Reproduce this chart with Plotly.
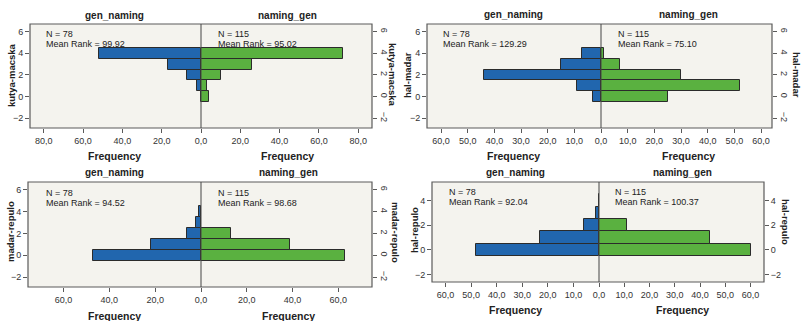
import plotly.graph_objects as go

W, H = 804, 321

# ---------------- data ----------------
bins = [0, 1, 2, 3, 4]
group_left = "gen_naming"
group_right = "naming_gen"

var_names = ["kutya-macska", "hal-madar", "madar-repulo", "hal-repulo"]

left_counts = [
    [0, 2, 7, 17, 52],
    [3, 9, 44, 15, 7],
    [47, 22, 6, 2, 1],
    [48, 23, 6, 1, 0],
]
right_counts = [
    [4, 3, 10, 26, 72],
    [25, 52, 30, 7, 1],
    [63, 39, 13, 0, 0],
    [60, 44, 11, 0, 0],
]
n_left = [78, 78, 78, 78]
n_right = [115, 115, 115, 115]
mean_rank_left = ["99.92", "129.29", "94.52", "92.04"]
mean_rank_right = ["95.02", "75.10", "98.68", "100.37"]

x_ticks = [
    [0, 20, 40, 60, 80],
    [0, 10, 20, 30, 40, 50, 60],
    [0, 20, 40, 60],
    [0, 10, 20, 30, 40, 50, 60],
]
y_ticks = [
    [-2, 0, 2, 4, 6],
    [-2, 0, 2, 4, 6],
    [-2, 0, 2, 4, 6],
    [-2, 0, 2, 4],
]

# ---------------- layout geometry (pixels) ----------------
frames = [
    (30, 201, 372, 24, 128),
    (427, 601, 772, 24, 128),
    (28, 201, 372, 182, 287),
    (432, 599, 764, 182, 282),
]
x_ranges = [(87, 87), (65.3, 64.1), (75.5, 74.7), (65.3, 65.3)]
y_ranges = [(-2.9, 6.7), (-2.9, 6.7), (-2.9, 6.7), (-2.6, 5.5)]
right_tick_angle = [90, 90, 90, 0]

title_pos = [(115, 287, 15), (513, 688, 14), (115, 288, 173), (515, 682, 173)]
freq_pos = [(115, 287, 156), (513, 688, 156), (115, 288, 316), (515, 682, 310)]
stat_pos = [(44, 216, 34, 44), (441, 616, 34, 44), (44, 216, 193, 203), (447, 613, 192, 202)]
ytitle_pos = [(11, 393, 75, 75), (407, 797, 75, 75), (10, 396, 232, 232), (414, 786, 230, 222)]

BLUE = "#2166AE"
GREEN = "#5AB140"
EDGE = "#2b2b2b"
BG = "#F4F3EE"
FRAME = "#5a5a5a"
FONT = "Liberation Sans, Arial, sans-serif"
TXT = "#222222"


def px(x):
    return x / W


def py(y):
    return 1 - y / H


def fmt(v):
    return f"{v:.1f}".replace(".", ",")


fig = go.Figure()
layout = dict(
    width=W, height=H,
    margin=dict(l=0, r=0, t=0, b=0, autoexpand=False),
    paper_bgcolor="white",
    plot_bgcolor=BG,
    showlegend=False,
    bargap=0,
    barmode="overlay",
    font=dict(family=FONT, size=9, color=TXT),
)
annotations = []
shapes = []

for k in range(4):
    x0, xc, x1, yt, yb = frames[k]
    xl_ref = f"x{2 * k + 1}"
    xr_ref = f"x{2 * k + 2}"
    yl_ref = f"y{2 * k + 1}"
    yr_ref = f"y{2 * k + 2}"
    ydom = [py(yb), py(yt)]

    common_x = dict(
        showgrid=False, zeroline=False, showline=False,
        ticks="outside", ticklen=4, tickcolor=FRAME, tickwidth=1,
        tickfont=dict(size=9, color="#333333"),
        fixedrange=True, automargin=False,
    )
    lv = [v for v in x_ticks[k] if v != 0]
    layout[f"xaxis{2 * k + 1}"] = dict(
        common_x, domain=[px(x0), px(xc)], anchor=yl_ref,
        range=[x_ranges[k][0], 0],
        tickvals=lv, ticktext=[fmt(v) for v in lv],
    )
    layout[f"xaxis{2 * k + 2}"] = dict(
        common_x, domain=[px(xc), px(x1)], anchor=yl_ref,
        range=[0, x_ranges[k][1]],
        tickvals=x_ticks[k], ticktext=[fmt(v) for v in x_ticks[k]],
    )
    common_y = dict(
        showgrid=False, zeroline=False, showline=False,
        ticks="outside", ticklen=4, tickcolor=FRAME, tickwidth=1,
        tickfont=dict(size=9, color="#333333"),
        range=list(y_ranges[k]), tickvals=y_ticks[k],
        fixedrange=True, automargin=False,
    )
    layout[f"yaxis{2 * k + 1}"] = dict(common_y, domain=ydom, anchor=xl_ref, side="left")
    layout[f"yaxis{2 * k + 2}"] = dict(common_y, domain=ydom, anchor=xr_ref, side="right",
                                       overlaying=yl_ref, tickangle=right_tick_angle[k])

    fig.add_trace(go.Bar(
        y=bins, x=left_counts[k], orientation="h", width=1,
        marker=dict(color=BLUE, line=dict(color=EDGE, width=1)),
        xaxis=xl_ref, yaxis=yl_ref, hoverinfo="skip",
    ))
    fig.add_trace(go.Bar(
        y=bins, x=right_counts[k], orientation="h", width=1,
        marker=dict(color=GREEN, line=dict(color=EDGE, width=1)),
        xaxis=xr_ref, yaxis=yl_ref, hoverinfo="skip",
    ))
    # empty trace so the right-hand y axis is drawn
    fig.add_trace(go.Scatter(
        x=[None], y=[None], xaxis=xr_ref, yaxis=yr_ref,
        mode="markers", hoverinfo="skip",
    ))

    shapes.append(dict(type="rect", xref="paper", yref="paper",
                       x0=px(x0), x1=px(x1), y0=py(yb), y1=py(yt),
                       line=dict(color=FRAME, width=1.2), layer="above"))
    shapes.append(dict(type="line", xref="paper", yref="paper",
                       x0=px(xc), x1=px(xc), y0=py(yb), y1=py(yt),
                       line=dict(color="#444444", width=1), layer="above"))

    tl, tr, ty = title_pos[k]
    for xx, txt in ((tl, group_left), (tr, group_right)):
        annotations.append(dict(x=px(xx), y=py(ty), xref="paper", yref="paper",
                                text=f"<b>{txt}</b>", showarrow=False,
                                font=dict(size=10, color=TXT),
                                xanchor="center", yanchor="middle"))
    fl, fr, fy = freq_pos[k]
    for xx in (fl, fr):
        annotations.append(dict(x=px(xx), y=py(fy), xref="paper", yref="paper",
                                text="<b>Frequency</b>", showarrow=False,
                                font=dict(size=10.5, color=TXT),
                                xanchor="center", yanchor="middle"))
    sl, sr, s1, s2 = stat_pos[k]
    for xx, n, mr in ((sl, n_left[k], mean_rank_left[k]), (sr, n_right[k], mean_rank_right[k])):
        annotations.append(dict(x=px(xx), y=py(s1), xref="paper", yref="paper",
                                text=f"N = {n}", showarrow=False,
                                font=dict(size=9, color=TXT),
                                xanchor="left", yanchor="middle"))
        annotations.append(dict(x=px(xx), y=py(s2), xref="paper", yref="paper",
                                text=f"Mean Rank = {mr}", showarrow=False,
                                font=dict(size=9, color=TXT),
                                xanchor="left", yanchor="middle"))
    al, ar, ayl, ayr = ytitle_pos[k]
    annotations.append(dict(x=px(al), y=py(ayl), xref="paper", yref="paper",
                            text=f"<b>{var_names[k]}</b>", showarrow=False,
                            textangle=-90, font=dict(size=9.5, color=TXT),
                            xanchor="center", yanchor="middle"))
    annotations.append(dict(x=px(ar), y=py(ayr), xref="paper", yref="paper",
                            text=f"<b>{var_names[k]}</b>", showarrow=False,
                            textangle=90, font=dict(size=9.5, color=TXT),
                            xanchor="center", yanchor="middle"))

layout["annotations"] = annotations
layout["shapes"] = shapes
fig.update_layout(**layout)
fig.write_html(
    "out.html",
    config={"displayModeBar": False},
    post_script="document.body.style.margin='0';",
)
